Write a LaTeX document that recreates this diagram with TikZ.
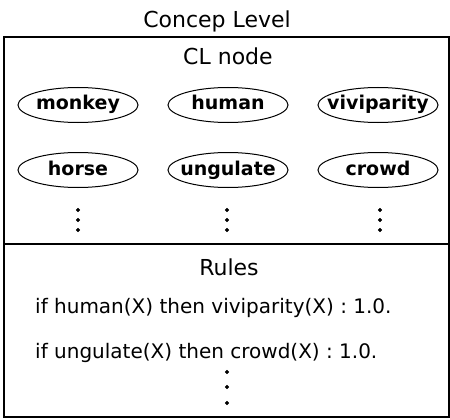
\documentclass[tikz,border=0pt]{standalone}
\usepackage{fontspec}
\setmainfont{DejaVu Sans}
\usetikzlibrary{shapes.geometric}
\usetikzlibrary{positioning}

\begin{document}
\begin{tikzpicture}[x=1pt,y=-1pt,node distance=150pt,
  every node/.style={font=\fontsize{20}{24}\selectfont,inner sep=0pt},
  heading/.style={anchor=base,font=\fontsize{22}{26}\selectfont},
  concept/.style={draw,ellipse,line width=1pt,minimum width=120pt,minimum height=35pt,
    text height=14pt,text depth=4pt,font=\bfseries\fontsize{19}{22}\selectfont,
    execute at begin node=\hbox to 0pt\bgroup\hss,execute at end node=\hss\egroup},
  bullet/.style={draw,circle,fill,minimum size=3.8pt}]
  \useasboundingbox (0,0) rectangle (450,420);
  \node[heading] (title) at (217,28) {Concep Level};
  \draw[line width=1.3pt] (4,37) rectangle (449,417);
  \draw[line width=1.3pt] (4,244) -- (449,244);

  \node[heading] (clnode) at (228,65) {CL node};
  \node[concept] (monkey) at (78,105) {monkey};
  \node[concept,right of=monkey] (human) {human};
  \node[concept,right of=human] (viviparity) {viviparity};

  \node[concept] (horse) at (78,170) {horse};
  \node[concept,right of=horse] (ungulate) {ungulate};
  \node[concept,right of=ungulate] (crowd) {crowd};

  \foreach \x in {78,227,380}
    \foreach \y in {210,220,230}
      \node[bullet] (c-\x-\y) at (\x,\y) {};

  \node[heading] (rules) at (229,275) {Rules};
  \node[anchor=base west] (rule1) at (35,313) {if human(X) then viviparity(X) : 1.0.};
  \node[anchor=base west] (rule2) at (35,358) {if ungulate(X) then crowd(X) : 1.0.};
  \foreach \y in {372,387,403}
    \node[bullet] (r-\y) at (227,\y) {};
\end{tikzpicture}
\end{document}
